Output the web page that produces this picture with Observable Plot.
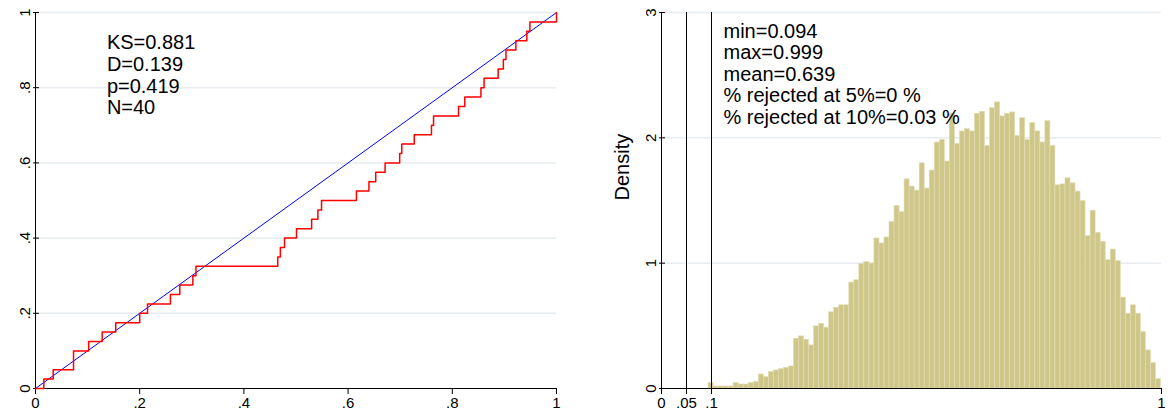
<!DOCTYPE html>
<html>
<head>
<meta charset="utf-8">
<script src="https://cdn.jsdelivr.net/npm/d3@7"></script>
<script src="https://cdn.jsdelivr.net/npm/@observablehq/plot@0.6"></script>
<style>
  body { margin: 0; background: #fff; font-family: "Liberation Sans", Arial, sans-serif; }
  #wrap { display: flex; width: 1171px; height: 417px; }
</style>
</head>
<body>
<div id="wrap"><div id="left"></div><div id="right"></div></div>
<script>
// p-values sorted (ECDF jumps), 40 obs
const pvals = [0.016, 0.034, 0.073, 0.073, 0.102, 0.128, 0.154, 0.200, 0.215, 0.259,
  0.277, 0.302, 0.308, 0.465, 0.470, 0.478, 0.501, 0.530, 0.542, 0.549,
  0.616, 0.640, 0.653, 0.671, 0.699, 0.703, 0.727, 0.760, 0.764, 0.812,
  0.824, 0.855, 0.861, 0.888, 0.898, 0.903, 0.922, 0.943, 0.949, 1.000];
const statsLeft = ["KS=0.881", "D=0.139", "p=0.419", "N=40"];

// histogram of simulated p-values (density per bin)
const histMin = 0.094, histMax = 0.999;
const density = [0.043, 0.016, 0.016, 0.016, 0.016, 0.043, 0.032, 0.032, 0.043, 0.053,
  0.112, 0.091, 0.133, 0.144, 0.155, 0.165, 0.176, 0.397, 0.416, 0.389,
  0.344, 0.496, 0.517, 0.485, 0.608, 0.645, 0.664, 0.664, 0.845, 0.864,
  0.992, 1.008, 0.997, 1.197, 1.157, 1.205, 1.328, 1.456, 1.408, 1.669,
  1.611, 1.579, 1.797, 1.595, 1.739, 1.963, 1.984, 1.811, 2.192, 1.952,
  2.051, 2.069, 2.051, 2.192, 2.208, 1.936, 2.237, 2.283, 2.171, 2.192,
  2.203, 2.016, 2.157, 1.984, 2.117, 2.051, 1.963, 2.133, 1.936, 1.621,
  1.629, 1.677, 1.637, 1.571, 1.496, 1.216, 1.419, 1.243, 1.171, 1.024,
  1.109, 1.016, 0.725, 0.597, 0.664, 0.597, 0.451, 0.304, 0.203, 0.075];
const statsRight = ["min=0.094", "max=0.999", "mean=0.639", "% rejected at 5%=0 %", "% rejected at 10%=0.03 %"];
const critLines = [0.05, 0.1];

const ecdf = [{x: 0, y: 0}, ...pvals.map((v, i) => ({x: v, y: (i + 1) / pvals.length}))];
const binW = (histMax - histMin) / density.length;
const bins = density.map((d, i) => ({x1: histMin + i * binW, x2: histMin + (i + 1) * binW, y: d}));

const fmt = d => d === 0 ? "0" : d === 1 ? "1" : String(d).replace(/^0/, "");
const gridColor = "#e6ecf0";

const left = Plot.plot({
  width: 585, height: 417,
  marginLeft: 35, marginRight: 29, marginTop: 12, marginBottom: 29,
  style: {fontFamily: "Liberation Sans, Arial", fontSize: "14px", color: "#000"},
  x: {domain: [0, 1]},
  y: {domain: [0, 1]},
  marks: [
    Plot.ruleY([0.2, 0.4, 0.6, 0.8, 1], {stroke: gridColor, strokeWidth: 1.5}),
    Plot.axisX({ticks: [0, 0.2, 0.4, 0.6, 0.8, 1], tickFormat: fmt, label: null, tickSize: 6, fontSize: 15}),
    Plot.axisY({ticks: [0, 0.2, 0.4, 0.6, 0.8, 1], tickFormat: fmt, label: null, tickSize: 6, tickRotate: -90, fontSize: 15, tickPadding: 4, dx: 4}),
    Plot.ruleX([0], {stroke: "#000"}),
    Plot.ruleY([0], {stroke: "#000"}),
    Plot.line([{x: 0, y: 0}, {x: 1, y: 1}], {x: "x", y: "y", stroke: "blue", strokeWidth: 1}),
    Plot.line(ecdf, {x: "x", y: "y", curve: "step-after", stroke: "red", strokeWidth: 1.5}),
    Plot.text(statsLeft, {x: 0.137, y: (d, i) => 0.92 - i * 0.058, text: d => d, textAnchor: "start", fontSize: 20, fill: "#000"})
  ]
});

const right = Plot.plot({
  width: 586, height: 417,
  marginLeft: 76, marginRight: 10, marginTop: 12, marginBottom: 29,
  style: {fontFamily: "Liberation Sans, Arial", fontSize: "14px", color: "#000"},
  x: {domain: [0, 1]},
  y: {domain: [0, 3]},
  marks: [
    Plot.ruleY([1, 2, 3], {stroke: gridColor, strokeWidth: 1.5}),
    Plot.rectY(bins, {x1: "x1", x2: "x2", y: "y", fill: "#cfc78a", stroke: "#e2ddb4", strokeWidth: 0.6}),
    Plot.axisX({ticks: [0, 0.05, 0.1, 1], tickFormat: fmt, label: null, tickSize: 6, fontSize: 15}),
    Plot.axisY({ticks: [0, 1, 2, 3], tickFormat: d => String(d), label: null, tickSize: 6, tickRotate: -90, fontSize: 15, tickPadding: 4, dx: 4}),
    Plot.text(["Density"], {frameAnchor: "left", dx: -39, rotate: -90, fontSize: 20, fill: "#000"}),
    Plot.ruleX([0], {stroke: "#000"}),
    Plot.ruleY([0], {stroke: "#000"}),
    Plot.ruleX(critLines, {stroke: "#000", strokeWidth: 1}),
    Plot.text(statsRight, {x: 0.124, y: (d, i) => 2.85 - i * 0.172, text: d => d, textAnchor: "start", fontSize: 20, fill: "#000"})
  ]
});

document.getElementById("left").append(left);
document.getElementById("right").append(right);
</script>
</body>
</html>
